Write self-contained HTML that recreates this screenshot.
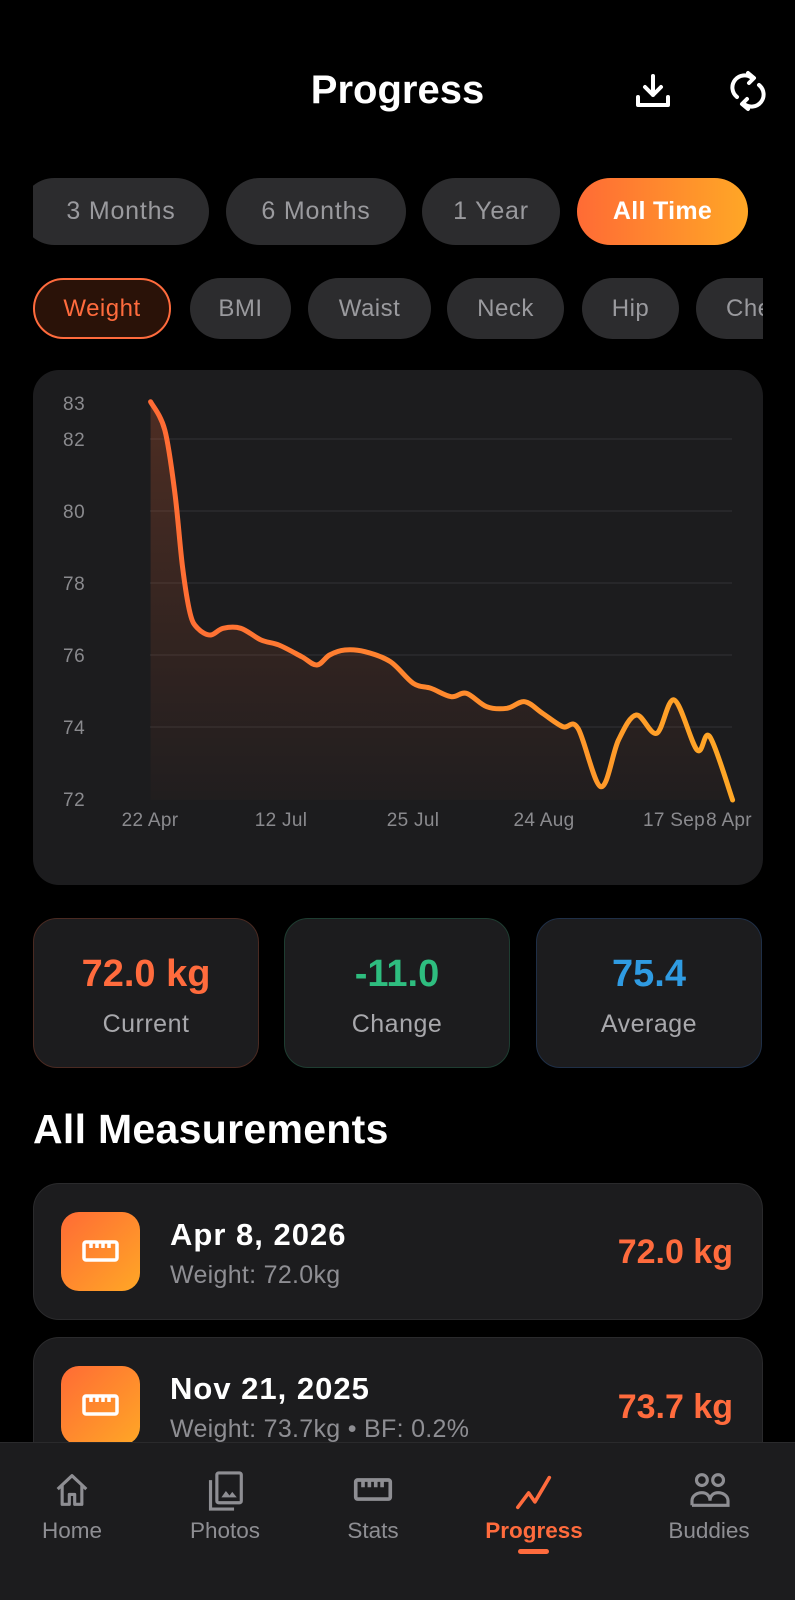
<!DOCTYPE html>
<html><head><meta charset="utf-8"><style>
*{margin:0;padding:0;box-sizing:border-box}
body{width:795px;height:1600px;background:#000;font-family:"Liberation Sans",sans-serif;position:relative;overflow:hidden;color:#fff;line-height:1}
.a{position:absolute;white-space:nowrap}
.pill{position:absolute;border-radius:34px;background:#2c2c2e;color:#9a9a9e;display:flex;align-items:center;justify-content:center;font-size:25px;letter-spacing:0.8px}
.pill2{position:absolute;border-radius:31px;background:#2c2c2e;color:#9a9a9e;display:flex;align-items:center;justify-content:center;font-size:24px;letter-spacing:0.5px}
.stat{position:absolute;top:918px;width:226px;height:150px;border-radius:24px;background:#1c1c1e;text-align:center}
.stat .v{position:absolute;top:36px;width:100%;font-size:38px;font-weight:bold}
.stat .l{position:absolute;top:93px;width:100%;font-size:25px;color:#a8a8ac;letter-spacing:0.5px}
.card{position:absolute;left:33px;width:730px;height:137px;border-radius:26px;background:#1c1c1e;border:1px solid #2a2a2c}
.ic{position:absolute;left:27px;top:28px;width:79px;height:79px;border-radius:18px;background:linear-gradient(135deg,#ff6b35,#ffa726)}
.nav{position:absolute;text-align:center;font-size:22.5px;color:#8e8e93;width:140px;top:1520px}
.dt{left:136px;top:35px;font-size:31px;font-weight:bold;letter-spacing:1px}
.sb{left:136px;top:79px;font-size:25px;color:#8e8e93;letter-spacing:0.3px}
.vl{right:29px;top:51px;font-size:34px;font-weight:bold;color:#ff6b3d}
</style></head><body>
<div class="a" style="left:0;width:795px;top:70px;text-align:center;font-size:40px;font-weight:bold">Progress</div>
<svg class="a" style="left:634px;top:73px" width="38" height="36" viewBox="0 0 38 36" fill="none" stroke="#fff" stroke-width="4" stroke-linecap="round" stroke-linejoin="round"><path d="M19 3v19M11 14l8 8 8-8M4 24v8h30v-8"/></svg>
<svg class="a" style="left:730px;top:70px" width="36" height="42" viewBox="0 0 36 42" fill="none" stroke="#fff" stroke-width="4" stroke-linecap="round"><path d="M7 27a12 12 0 0 1 15-19"/><path d="M29 15a12 12 0 0 1-15 19"/><path d="M18 3l6 5-5 5" stroke-linejoin="round"/><path d="M18 39l-6-5 5-5" stroke-linejoin="round"/></svg>

<div class="a" style="left:33px;top:170px;width:730px;height:180px;overflow:hidden">
<div class="pill" style="left:-12px;top:8px;width:188px;height:67px;padding-left:12px">3 Months</div>
<div class="pill" style="left:193px;top:8px;width:180px;height:67px">6 Months</div>
<div class="pill" style="left:389px;top:8px;width:138px;height:67px">1 Year</div>
<div class="pill" style="left:544px;top:8px;width:171px;height:67px;background:linear-gradient(90deg,#ff6b35,#ffa726);color:#fff;font-weight:bold;letter-spacing:0.3px">All Time</div>
<div class="pill2" style="left:0;top:108px;width:138px;height:61px;background:#2a1208;border:2px solid #ff6b3d;color:#ff6b3d">Weight</div>
<div class="pill2" style="left:157px;top:108px;width:101px;height:61px">BMI</div>
<div class="pill2" style="left:275px;top:108px;width:123px;height:61px">Waist</div>
<div class="pill2" style="left:414px;top:108px;width:117px;height:61px">Neck</div>
<div class="pill2" style="left:549px;top:108px;width:97px;height:61px">Hip</div>
<div class="pill2" style="left:663px;top:108px;width:110px;height:61px;justify-content:flex-start;padding-left:30px">Chest</div>
</div>

<div class="a" style="left:33px;top:370px;width:730px;height:515px;border-radius:26px;background:#1c1c1e"></div>
<svg class="a" style="left:0;top:0" width="795" height="900">
<defs>
<linearGradient id="lg" x1="150" y1="0" x2="733" y2="0" gradientUnits="userSpaceOnUse"><stop offset="0" stop-color="#ff6b35"/><stop offset="1" stop-color="#ffa726"/></linearGradient>
<linearGradient id="fg" x1="0" y1="400" x2="0" y2="800" gradientUnits="userSpaceOnUse"><stop offset="0" stop-color="#ff6b35" stop-opacity="0.22"/><stop offset="1" stop-color="#ff6b35" stop-opacity="0.02"/></linearGradient>
</defs>
<g stroke="#2e2e31" stroke-width="1.2">
<line x1="150" x2="732" y1="439" y2="439"/><line x1="150" x2="732" y1="511" y2="511"/><line x1="150" x2="732" y1="583" y2="583"/><line x1="150" x2="732" y1="655" y2="655"/><line x1="150" x2="732" y1="727" y2="727"/>
</g>
<g font-size="19" fill="#8a8a8e" font-family="Liberation Sans" letter-spacing="0.5">
<text x="63" y="410">83</text><text x="63" y="446">82</text><text x="63" y="518">80</text><text x="63" y="590">78</text><text x="63" y="662">76</text><text x="63" y="734">74</text><text x="63" y="806">72</text>
<g text-anchor="middle" letter-spacing="0.3"><text x="150" y="826">22 Apr</text><text x="281" y="826">12 Jul</text><text x="413" y="826">25 Jul</text><text x="544" y="826">24 Aug</text><text x="674" y="826">17 Sep</text><text x="729" y="826">8 Apr</text></g>
</g>
<path id="fill" fill="url(#fg)"/>
<path id="ln" fill="none" stroke="url(#lg)" stroke-width="5" stroke-linecap="round" stroke-linejoin="round"/>
</svg>
<script>
var p=[[150.6,401.7],[164.8,430],[174.9,493.3],[182.5,566.7],[190.1,613.3],[197.7,628.3],[210.4,635],[223.1,628.3],[240.8,628.3],[261.1,640],[278.9,645],[301.7,656.7],[316.9,665],[329.6,655],[344.8,650],[365,651.7],[390.4,661.7],[413.2,683.3],[431,688.3],[451.2,696.7],[466.4,693.3],[486.7,706.7],[507,708.3],[524.7,701.7],[542.5,713.3],[562.8,726.7],[578,728.3],[600.8,786.7],[618.5,740],[636.3,715],[656.6,733.3],[674.3,700],[697.1,750],[709.8,736.7],[732.6,800]];
var d="M"+p[0][0]+" "+p[0][1];
for(var i=0;i<p.length-1;i++){var a=p[Math.max(i-1,0)],b=p[i],c=p[i+1],e=p[Math.min(i+2,p.length-1)];
d+=" C"+(b[0]+(c[0]-a[0])/6)+" "+(b[1]+(c[1]-a[1])/6)+" "+(c[0]-(e[0]-b[0])/6)+" "+(c[1]-(e[1]-b[1])/6)+" "+c[0]+" "+c[1];}
document.getElementById("ln").setAttribute("d",d);
document.getElementById("fill").setAttribute("d",d+" L732.6 800 L150.6 800 Z");
</script>

<div class="stat" style="left:33px;border:1.5px solid #4a2a22"><div class="v" style="color:#ff6b3d">72.0 kg</div><div class="l">Current</div></div>
<div class="stat" style="left:284px;border:1.5px solid #1e3d31"><div class="v" style="color:#2ebd7f">-11.0</div><div class="l">Change</div></div>
<div class="stat" style="left:536px;border:1.5px solid #1f2f47"><div class="v" style="color:#2f9be2">75.4</div><div class="l">Average</div></div>

<div class="a" style="left:33px;top:1109px;font-size:41px;font-weight:bold;letter-spacing:0.3px">All Measurements</div>

<div class="card" style="top:1183px"><div class="ic"><svg style="position:absolute;left:21px;top:28px" width="37" height="22" viewBox="0 0 37 22" fill="none" stroke="#fff" stroke-width="3.5" stroke-linejoin="round"><rect x="2" y="2" width="33" height="18" rx="2"/><path d="M9 2v6M15 2v6M21 2v6M27 2v6"/></svg></div>
<div class="a dt">Apr 8, 2026</div>
<div class="a sb">Weight: 72.0kg</div>
<div class="a vl">72.0 kg</div></div>

<div class="card" style="top:1337px"><div class="ic"><svg style="position:absolute;left:21px;top:28px" width="37" height="22" viewBox="0 0 37 22" fill="none" stroke="#fff" stroke-width="3.5" stroke-linejoin="round"><rect x="2" y="2" width="33" height="18" rx="2"/><path d="M9 2v6M15 2v6M21 2v6M27 2v6"/></svg></div>
<div class="a dt">Nov 21, 2025</div>
<div class="a sb">Weight: 73.7kg • BF: 0.2%</div>
<div class="a vl" style="top:52px">73.7 kg</div></div>

<div class="a" style="left:0;top:1442px;width:795px;height:158px;background:#1c1c1e;border-top:1px solid #2a2a2c"></div>
<svg class="a" style="left:54px;top:1473px" width="36" height="34" viewBox="0 0 40 38" fill="none" stroke="#8e8e93" stroke-width="3.5" stroke-linejoin="round"><path d="M4 18L20 3l16 15M9 14v21h8V24h6v11h8V14"/></svg>
<svg class="a" style="left:206px;top:1470px" width="38" height="42" viewBox="0 0 42 46" fill="none" stroke="#8e8e93" stroke-width="3.5"><rect x="12" y="3" width="27" height="33" rx="2"/><path d="M5 11v32h26"/><path d="M17 30l5-7 4 5 3-4 5 6z" fill="#8e8e93" stroke="none"/></svg>
<svg class="a" style="left:353px;top:1477px" width="40" height="26" viewBox="0 0 44 28" fill="none" stroke="#8e8e93" stroke-width="4" stroke-linejoin="round"><rect x="3" y="3" width="38" height="21" rx="2"/><path d="M11 3v8M18 3v8M25 3v8M32 3v8"/></svg>
<svg class="a" style="left:515px;top:1474px" width="38" height="36" viewBox="0 0 42 40" fill="none" stroke="#ff6b3d" stroke-width="4" stroke-linecap="round" stroke-linejoin="round"><path d="M3 37l12-16 7 10 16-27"/></svg>
<svg class="a" style="left:689px;top:1472px" width="42" height="36" viewBox="0 0 46 40" fill="none" stroke="#8e8e93" stroke-width="3.5"><circle cx="14" cy="9" r="6"/><circle cx="32" cy="9" r="6"/><path d="M3 37v-5c0-6 6-9 11-9s9 3 9 9M23 32c0-6 4-9 9-9s11 3 11 9v5H3"/></svg>
<div class="nav" style="left:2px">Home</div>
<div class="nav" style="left:155px">Photos</div>
<div class="nav" style="left:303px">Stats</div>
<div class="nav" style="left:464px;color:#ff6b3d;font-weight:bold">Progress</div>
<div class="nav" style="left:639px">Buddies</div>
<div class="a" style="left:518px;top:1549px;width:31px;height:5px;border-radius:3px;background:#ff6b3d"></div>
</body></html>
